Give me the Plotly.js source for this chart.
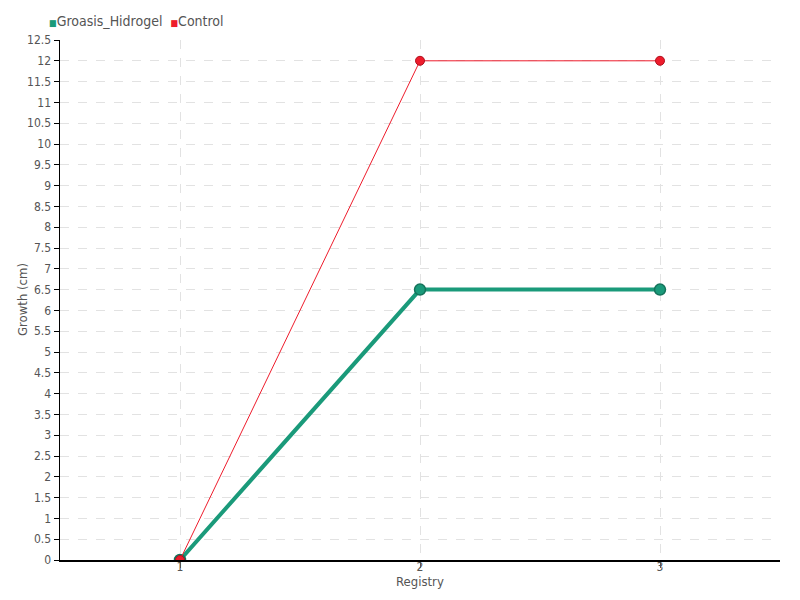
<!DOCTYPE html>
<html>
<head>
<meta charset="utf-8">
<script src="https://cdn.plot.ly/plotly-3.0.1.min.js"></script>
<style>html,body{margin:0;padding:0;background:#fff;}#chart{width:800px;height:600px;}</style>
</head>
<body>
<div id="chart"></div>
<script>
const registry = [1, 2, 3];
const groasisHidrogel = [0, 6.5, 6.5];
const control = [0, 12, 12];
const seriesNames = ["Groasis_Hidrogel", "Control"];
const yTicks = [0,0.5,1,1.5,2,2.5,3,3.5,4,4.5,5,5.5,6,6.5,7,7.5,8,8.5,9,9.5,10,10.5,11,11.5,12,12.5];
const xTitle = "Registry";
const yTitle = "Growth (cm)";

const FONT = "DejaVu Sans Condensed, Liberation Sans Narrow, sans-serif";
const green = "#1a9a7a";
const red = "#ee1c2c";

const traces = [
  {x: registry, y: groasisHidrogel, mode: "lines+markers", name: seriesNames[0],
   line: {color: green, width: 4}, marker: {color: green, size: 11, line: {color: "#14735b", width: 1.5}}},
  {x: registry, y: control, mode: "lines+markers", name: seriesNames[1],
   line: {color: red, width: 1}, marker: {color: red, size: 9, line: {color: "#b0101e", width: 1}}}
];

const legendText = '<span style="color:' + green + ';font-size:9px">■</span>' + seriesNames[0] +
  '  <span style="color:' + red + ';font-size:9px">■</span>' + seriesNames[1];

const layout = {
  width: 800, height: 600,
  margin: {l: 60, r: 20, t: 40, b: 40},
  paper_bgcolor: "#fff", plot_bgcolor: "#fff",
  font: {family: FONT, size: 13, color: "#555"},
  showlegend: false,
  annotations: [
    {text: legendText, xref: "paper", yref: "paper", x: -0.018, y: (560 - 21) / 520,
     xanchor: "left", yanchor: "middle", showarrow: false, font: {family: FONT, size: 14, color: "#555"}},
    {text: yTitle, xref: "paper", yref: "paper", x: -38 / 720, y: 0.5, textangle: -90,
     xanchor: "center", yanchor: "middle", showarrow: false, font: {family: FONT, size: 13, color: "#555"}},
    {text: xTitle, xref: "paper", yref: "paper", x: 0.5, y: -21 / 520,
     xanchor: "center", yanchor: "middle", showarrow: false, font: {family: FONT, size: 13, color: "#555"}}
  ],
  xaxis: {range: [0.5, 3.5], tickvals: registry, ticktext: registry.map(String),
          showline: true, linecolor: "#000", linewidth: 1.5, mirror: false,
          ticks: "outside", ticklen: 6, tickcolor: "#555", tickwidth: 1, ticklabelstandoff: -11,
          showgrid: true, gridcolor: "#e2e2e2", griddash: "dash", zeroline: false,
          tickfont: {family: FONT, size: 12, color: "#555"}},
  yaxis: {range: [0, 12.5], tickvals: yTicks, ticktext: yTicks.map(String),
          showline: true, linecolor: "#000", linewidth: 1.5,
          ticks: "outside", ticklen: 5, tickcolor: "#000", tickwidth: 1,
          showgrid: true, gridcolor: "#e2e2e2", griddash: "dash", zeroline: false,
          tickfont: {family: FONT, size: 12, color: "#555"}}
};

Plotly.newPlot("chart", traces, layout, {displayModeBar: false, staticPlot: true});
</script>
</body>
</html>
